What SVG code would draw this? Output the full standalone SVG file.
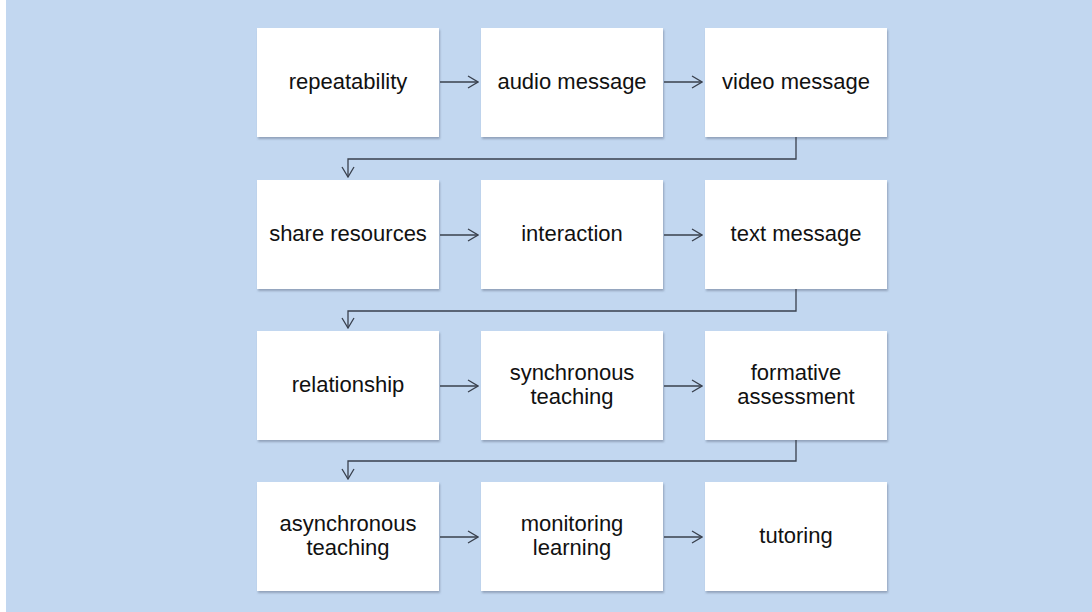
<svg xmlns="http://www.w3.org/2000/svg" width="1092" height="612" viewBox="0 0 1092 612">
<style>
.box{fill:#fff;filter:url(#sh)}
.t{font-family:"Liberation Sans",Arial,sans-serif;font-size:22px;fill:#111;text-anchor:middle}
.c{fill:none;stroke:#39404d;stroke-width:1.3}
</style>
<defs>
<filter id="sh" x="-10%" y="-10%" width="125%" height="125%">
<feDropShadow dx="1" dy="2" stdDeviation="1.2" flood-color="#56647a" flood-opacity="0.45"/>
</filter>
<marker id="ah" viewBox="0 0 12 14" refX="11" refY="7" markerWidth="12" markerHeight="14" markerUnits="userSpaceOnUse" orient="auto">
<path d="M1,1 L11,7 L1,13" fill="none" stroke="#39404d" stroke-width="1.3"/>
</marker>
</defs>
<rect x="0" y="0" width="1092" height="612" fill="#fff"/>
<rect x="6" y="0" width="1086" height="612" fill="#c2d7f0"/>

<g id="n1"><rect class="box" x="257" y="28" width="182" height="109"/><text class="t" x="348" y="89">repeatability</text></g>
<g id="n2"><rect class="box" x="481" y="28" width="182" height="109"/><text class="t" x="572" y="89">audio message</text></g>
<g id="n3"><rect class="box" x="705" y="28" width="182" height="109"/><text class="t" x="796" y="89">video message</text></g>

<g id="n4"><rect class="box" x="257" y="180" width="182" height="109"/><text class="t" x="348" y="241">share resources</text></g>
<g id="n5"><rect class="box" x="481" y="180" width="182" height="109"/><text class="t" x="572" y="241">interaction</text></g>
<g id="n6"><rect class="box" x="705" y="180" width="182" height="109"/><text class="t" x="796" y="241">text message</text></g>

<g id="n7"><rect class="box" x="257" y="331" width="182" height="109"/><text class="t" x="348" y="392">relationship</text></g>
<g id="n8"><rect class="box" x="481" y="331" width="182" height="109"/><text class="t" x="572" y="380">synchronous</text><text class="t" x="572" y="404">teaching</text></g>
<g id="n9"><rect class="box" x="705" y="331" width="182" height="109"/><text class="t" x="796" y="380">formative</text><text class="t" x="796" y="404">assessment</text></g>

<g id="n10"><rect class="box" x="257" y="482" width="182" height="109"/><text class="t" x="348" y="531">asynchronous</text><text class="t" x="348" y="555">teaching</text></g>
<g id="n11"><rect class="box" x="481" y="482" width="182" height="109"/><text class="t" x="572" y="531">monitoring</text><text class="t" x="572" y="555">learning</text></g>
<g id="n12"><rect class="box" x="705" y="482" width="182" height="109"/><text class="t" x="796" y="543">tutoring</text></g>

<g id="connectors">
<line class="c" x1="440" y1="82" x2="478" y2="82" marker-end="url(#ah)"/>
<line class="c" x1="664" y1="82" x2="702" y2="82" marker-end="url(#ah)"/>
<polyline class="c" points="796,137 796,159 348,159 348,177" marker-end="url(#ah)"/>
<line class="c" x1="440" y1="235" x2="478" y2="235" marker-end="url(#ah)"/>
<line class="c" x1="664" y1="235" x2="702" y2="235" marker-end="url(#ah)"/>
<polyline class="c" points="796,289 796,311 348,311 348,328" marker-end="url(#ah)"/>
<line class="c" x1="440" y1="386" x2="478" y2="386" marker-end="url(#ah)"/>
<line class="c" x1="664" y1="386" x2="702" y2="386" marker-end="url(#ah)"/>
<polyline class="c" points="796,440 796,461 348,461 348,479" marker-end="url(#ah)"/>
<line class="c" x1="440" y1="537" x2="478" y2="537" marker-end="url(#ah)"/>
<line class="c" x1="664" y1="537" x2="702" y2="537" marker-end="url(#ah)"/>
</g>
</svg>
